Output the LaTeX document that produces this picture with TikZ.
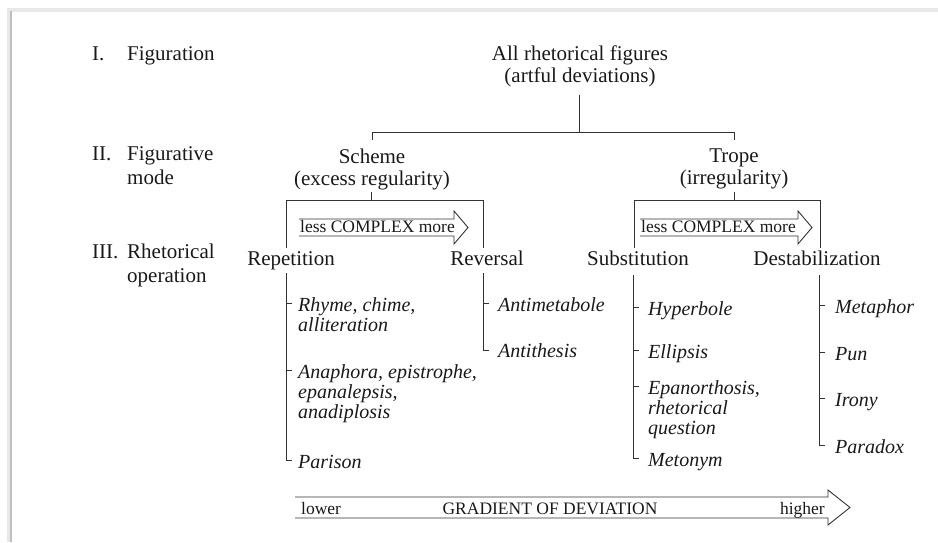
\documentclass[tikz,border=0pt]{standalone}
\usepackage{fontspec}
\setmainfont{Liberation Serif}
\begin{document}
\begin{tikzpicture}[x=1pt,y=-1pt,
  lbl/.style={font=\fontsize{21}{22}\selectfont, inner sep=0pt, text=black!90},
  head/.style={lbl, align=center, anchor=base},
  item/.style={font=\fontsize{20}{20}\selectfont\itshape, inner sep=0pt, align=left, anchor=base west, text=black!90},
  atext/.style={font=\fontsize{17.5}{19}\selectfont, inner sep=0pt, text=black!90},
  ln/.style={draw=black!80, line width=0.9pt},
]
\useasboundingbox (0,0) rectangle (938,542);
% frame of the scanned page
\draw[gray!18, line width=4pt] (9,542) -- (9,10) -- (938,10);
\draw[gray!50, line width=1.2pt] (11,542) -- (11,11);
% level labels (multi-line nodes are placed by their last baseline)
\node[lbl, anchor=base west] (n1) at (92,60) {I.};
\node[lbl, anchor=base west] (l1) at (127,60) {Figuration};
\node[lbl, anchor=base west] (n2) at (92,160) {II.};
\node[lbl, anchor=base west, align=left, font=\fontsize{21}{24}\selectfont] (l2) at (127,184) {Figurative\\mode};
\node[lbl, anchor=base west] (n3) at (92,258) {III.};
\node[lbl, anchor=base west, align=left, font=\fontsize{21}{24}\selectfont] (l3) at (127,282) {Rhetorical\\operation};
% tree heads
\node[head] (root) at (580,82) {All rhetorical figures\\(artful deviations)};
\node[head] (scheme) at (372,185) {Scheme\\(excess regularity)};
\node[head] (trope) at (734,184) {Trope\\(irregularity)};
\node[lbl, anchor=base] (rep) at (291,265) {Repetition};
\node[lbl, anchor=base] (rev) at (487,265) {Reversal};
\node[lbl, anchor=base] (sub) at (638,265) {Substitution};
\node[lbl, anchor=base] (des) at (817,265) {Destabilization};
% brackets
\coordinate (rootdown) at (579,95);
\draw[ln] (rootdown) -- (579,132);
\draw[ln] (372,140) -- (372,132) -- (734,132) -- (734,140);
\draw[ln] (371,192) -- (371,200);
\draw[ln] (286,248) -- (286,200) -- (483,200) -- (483,248);
\draw[ln] (734,192) -- (734,200);
\draw[ln] (634,248) -- (634,200) -- (820,200) -- (820,248);
% complexity arrows
\draw[ln] (299,219) -- (454,219) -- (454,211) -- (468,227.5) -- (454,244) -- (454,236) -- (299,236);
\node[atext, anchor=base west] (c1) at (300,232) {less COMPLEX more};
\draw[ln] (640,219) -- (798,219) -- (798,211) -- (812,227.5) -- (798,244) -- (798,236) -- (640,236);
\node[atext, anchor=base west] (c2) at (641,232) {less COMPLEX more};
% Repetition list
\node[item] (rhyme) at (298,331) {Rhyme, chime,\\alliteration};
\node[item] (anaph) at (298,418) {Anaphora, epistrophe,\\epanalepsis,\\anadiplosis};
\node[item] (paris) at (298,468) {Parison};
\draw[ln] (286,273) -- (286,460) -- (292,460);
\draw[ln] (286,303) -- (292,303);
\draw[ln] (286,370) -- (292,370);
% Reversal list
\node[item] (antim) at (498,311) {Antimetabole};
\node[item] (antit) at (498,357) {Antithesis};
\draw[ln] (483,273) -- (483,350) -- (489,350);
\draw[ln] (483,303) -- (489,303);
% Substitution list
\node[item] (hyper) at (648,315) {Hyperbole};
\node[item] (ellip) at (648,358) {Ellipsis};
\node[item] (epan) at (648,434) {Epanorthosis,\\rhetorical\\question};
\node[item] (meto) at (648,466) {Metonym};
\draw[ln] (633,275) -- (633,458) -- (639,458);
\draw[ln] (633,307) -- (639,307);
\draw[ln] (633,350) -- (639,350);
\draw[ln] (633,386) -- (639,386);
% Destabilization list
\node[item] (meta) at (835,313) {Metaphor};
\node[item] (pun) at (835,360) {Pun};
\node[item] (iron) at (835,406) {Irony};
\node[item] (para) at (835,453) {Paradox};
\draw[ln] (819,275) -- (819,445) -- (825,445);
\draw[ln] (819,305) -- (825,305);
\draw[ln] (819,352) -- (825,352);
\draw[ln] (819,398) -- (825,398);
% gradient arrow
\draw[ln] (295,497) -- (828,497) -- (828,490) -- (850,507.5) -- (828,525) -- (828,518) -- (295,518);
\node[atext, anchor=base west] (lo) at (301,514) {lower};
\node[atext, anchor=base] (grad) at (550,514) {GRADIENT OF DEVIATION};
\node[atext, anchor=base east] (hi) at (825,514) {higher};
\end{tikzpicture}
\end{document}
